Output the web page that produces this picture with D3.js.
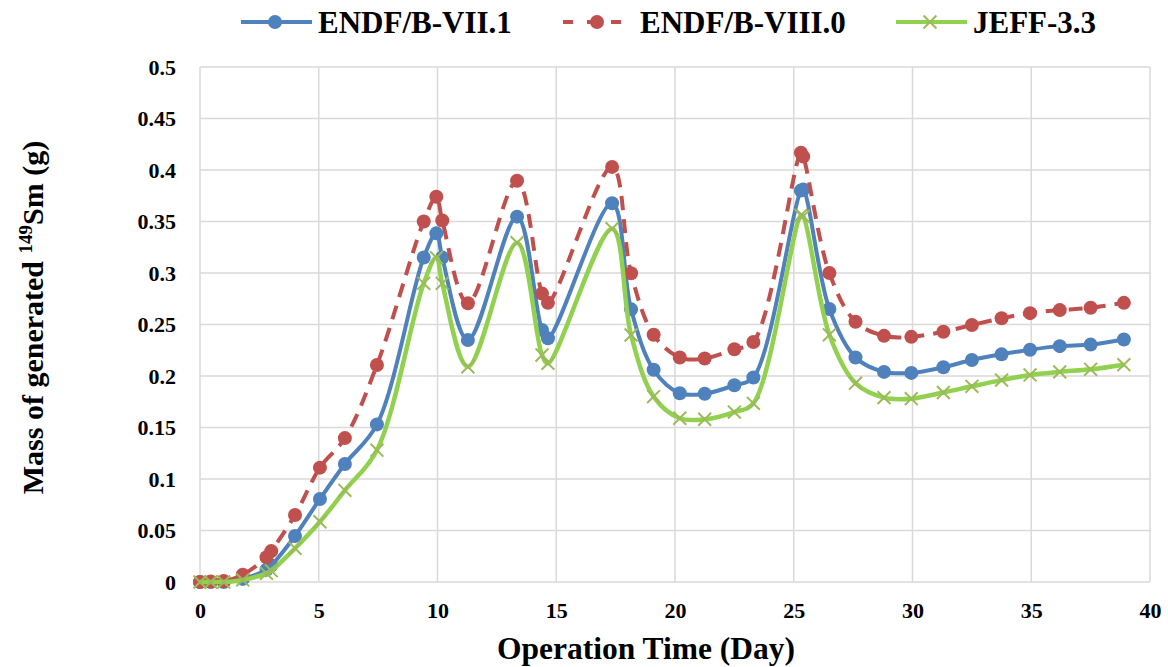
<!DOCTYPE html>
<html>
<head>
<meta charset="utf-8">
<script src="https://cdn.jsdelivr.net/npm/d3@7"></script>
<style>
  body { margin: 0; background: #fff; }
  text { font-family: "Liberation Serif", "Times New Roman", serif; font-weight: bold; }
</style>
</head>
<body>
<div id="chart"></div>
<script>
  // operation time (days) shared by all three libraries
  var days = [0, 0.45, 1.0, 1.8, 2.8, 3.0, 4.0, 5.05, 6.1, 7.45, 9.42, 9.95, 10.2, 11.28,
    13.35, 14.4, 14.65, 17.35, 18.15, 19.1, 20.2, 21.25, 22.5, 23.3, 25.3, 25.4,
    26.5, 27.6, 28.8, 29.95, 31.3, 32.5, 33.75, 34.95, 36.2, 37.5, 38.9]

  // mass of Sm-149 (g)
  var endf71 = [0, 0, 0, 0.003, 0.012, 0.016, 0.0447, 0.0806, 0.1146, 0.153, 0.315, 0.3385, 0.315, 0.235,
    0.3547, 0.2447, 0.2366, 0.3677, 0.2647, 0.206, 0.1833, 0.1828, 0.191, 0.1985, 0.38, 0.381,
    0.265, 0.218, 0.204, 0.203, 0.2085, 0.2155, 0.221, 0.2255, 0.229, 0.2305, 0.2355]
  var endf80 = [0, 0.0005, 0.001, 0.007, 0.024, 0.03, 0.065, 0.111, 0.1397, 0.2107, 0.35, 0.374, 0.351, 0.2706,
    0.3896, 0.28, 0.271, 0.403, 0.2997, 0.24, 0.218, 0.217, 0.226, 0.233, 0.4168, 0.413,
    0.3, 0.2527, 0.239, 0.238, 0.243, 0.2495, 0.256, 0.261, 0.264, 0.2663, 0.271]
  var jeff33 = [0, 0, 0, 0.002, 0.0084, 0.011, 0.0327, 0.0585, 0.089, 0.128, 0.29, 0.315, 0.29, 0.209,
    0.3294, 0.2204, 0.2123, 0.343, 0.2398, 0.18, 0.159, 0.158, 0.165, 0.1735, 0.356, 0.355,
    0.24, 0.193, 0.179, 0.178, 0.184, 0.19, 0.196, 0.201, 0.204, 0.2065, 0.211]

  var xTicks = [0, 5, 10, 15, 20, 25, 30, 35, 40]
  var yTicks = [0, 0.05, 0.1, 0.15, 0.2, 0.25, 0.3, 0.35, 0.4, 0.45, 0.5]
  var seriesNames = ['ENDF/B-VII.1', 'ENDF/B-VIII.0', 'JEFF-3.3']

  var margin = { left: 200, right: 18, top: 67, bottom: 85 }
  var width = 1168 - margin.left - margin.right
  var height = 667 - margin.top - margin.bottom

  var svg = d3.select('#chart')
    .append('svg')
    .attr('width', 1168)
    .attr('height', 667)
    .append('g')
    .attr('transform', `translate(${margin.left},${margin.top})`)

  var xPositionScale = d3.scaleLinear().domain([0, 40]).range([0, width])
  var yPositionScale = d3.scaleLinear().domain([0, 0.5]).range([height, 0])

  // gridlines
  svg.append('g')
    .selectAll('line')
    .data(xTicks)
    .enter().append('line')
    .attr('x1', d => xPositionScale(d))
    .attr('x2', d => xPositionScale(d))
    .attr('y1', 0)
    .attr('y2', height)
    .attr('stroke', '#d9d9d9')
    .attr('stroke-width', 1.5)

  svg.append('g')
    .selectAll('line')
    .data(yTicks)
    .enter().append('line')
    .attr('y1', d => yPositionScale(d))
    .attr('y2', d => yPositionScale(d))
    .attr('x1', 0)
    .attr('x2', width)
    .attr('stroke', '#d9d9d9')
    .attr('stroke-width', 1.5)

  // axes, labels only
  var xAxis = d3.axisBottom(xPositionScale)
    .tickValues(xTicks)
    .tickSize(0)
    .tickPadding(20)
    .tickFormat(d => d)

  var yAxis = d3.axisLeft(yPositionScale)
    .tickValues(yTicks)
    .tickSize(0)
    .tickPadding(24)
    .tickFormat(d => d)

  svg.append('g')
    .attr('class', 'axis x-axis')
    .attr('transform', 'translate(0,' + height + ')')
    .call(xAxis)

  svg.append('g')
    .attr('class', 'axis y-axis')
    .call(yAxis)

  svg.selectAll('.axis path').remove()
  svg.selectAll('.axis text')
    .attr('font-family', '"Liberation Serif", serif')
    .attr('font-weight', 'bold')
    .attr('font-size', 22)
    .attr('fill', '#000')

  // axis titles
  svg.append('text')
    .text('Operation Time (Day)')
    .attr('text-anchor', 'middle')
    .attr('x', width / 2 - 29)
    .attr('y', height + 77)
    .attr('font-size', 31.5)

  var yTitle = svg.append('text')
    .attr('text-anchor', 'middle')
    .attr('transform', `translate(-158,${height / 2})`)
  yTitle.attr('transform', `translate(-157,${height / 2 - 7}) rotate(-90)`)
    .attr('font-size', 30)
  yTitle.append('tspan').text('Mass of generated ')
  yTitle.append('tspan').text('149').attr('font-size', 19).attr('dy', -11)
  yTitle.append('tspan').text('Sm (g)').attr('dy', 11)

  function makeData(values) {
    return days.map((d, i) => ({ day: d, value: values[i] }))
  }

  var line = d3.line()
    .x(d => xPositionScale(d.day))
    .y(d => yPositionScale(d.value))
    .curve(d3.curveCatmullRom.alpha(0.5))

  // ENDF/B-VII.1
  var blueData = makeData(endf71)
  svg.append('path')
    .attr('d', line(blueData))
    .attr('fill', 'none')
    .attr('stroke', '#4f81bd')
    .attr('stroke-width', 4)
  svg.append('g')
    .selectAll('circle')
    .data(blueData)
    .enter().append('circle')
    .attr('cx', d => xPositionScale(d.day))
    .attr('cy', d => yPositionScale(d.value))
    .attr('r', 7)
    .attr('fill', '#4f81bd')

  // ENDF/B-VIII.0
  var redData = makeData(endf80)
  svg.append('path')
    .attr('d', line(redData))
    .attr('fill', 'none')
    .attr('stroke', '#c0504d')
    .attr('stroke-width', 4)
    .attr('stroke-dasharray', '14 9')
  svg.append('g')
    .selectAll('circle')
    .data(redData)
    .enter().append('circle')
    .attr('cx', d => xPositionScale(d.day))
    .attr('cy', d => yPositionScale(d.value))
    .attr('r', 7)
    .attr('fill', '#c0504d')

  // JEFF-3.3
  var greenData = makeData(jeff33)
  svg.append('path')
    .attr('d', line(greenData))
    .attr('fill', 'none')
    .attr('stroke', '#92d050')
    .attr('stroke-width', 4.5)
  var cross = d3.symbol().type(d3.symbolX).size(110)
  svg.append('g')
    .selectAll('path')
    .data(greenData)
    .enter().append('path')
    .attr('d', cross)
    .attr('transform', d => `translate(${xPositionScale(d.day)},${yPositionScale(d.value)})`)
    .attr('fill', 'none')
    .attr('stroke', '#9bbb59')
    .attr('stroke-width', 2)

  // legend, in page coordinates
  var legend = d3.select('#chart svg').append('g')
  var legendItems = [
    { x: 241, color: '#4f81bd', dash: false, marker: 'circle', name: seriesNames[0] },
    { x: 563, color: '#c0504d', dash: true, marker: 'circle', name: seriesNames[1] },
    { x: 896, color: '#92d050', dash: false, marker: 'cross', name: seriesNames[2] }
  ]
  legendItems.forEach(item => {
    var g = legend.append('g').attr('transform', `translate(${item.x},22)`)
    g.append('line')
      .attr('x1', 0)
      .attr('x2', 71)
      .attr('stroke', item.color)
      .attr('stroke-width', 4)
      .attr('stroke-dasharray', item.dash ? '10 14' : null)
    if (item.marker === 'circle') {
      g.append('circle').attr('cx', 34).attr('r', 7).attr('fill', item.color)
    } else {
      g.append('path').attr('d', cross).attr('transform', 'translate(34,0)')
        .attr('fill', 'none').attr('stroke', '#9bbb59').attr('stroke-width', 2)
    }
    g.append('text')
      .text(item.name)
      .attr('x', 77)
      .attr('y', 11)
      .attr('font-size', 31)
  })
</script>
</body>
</html>
